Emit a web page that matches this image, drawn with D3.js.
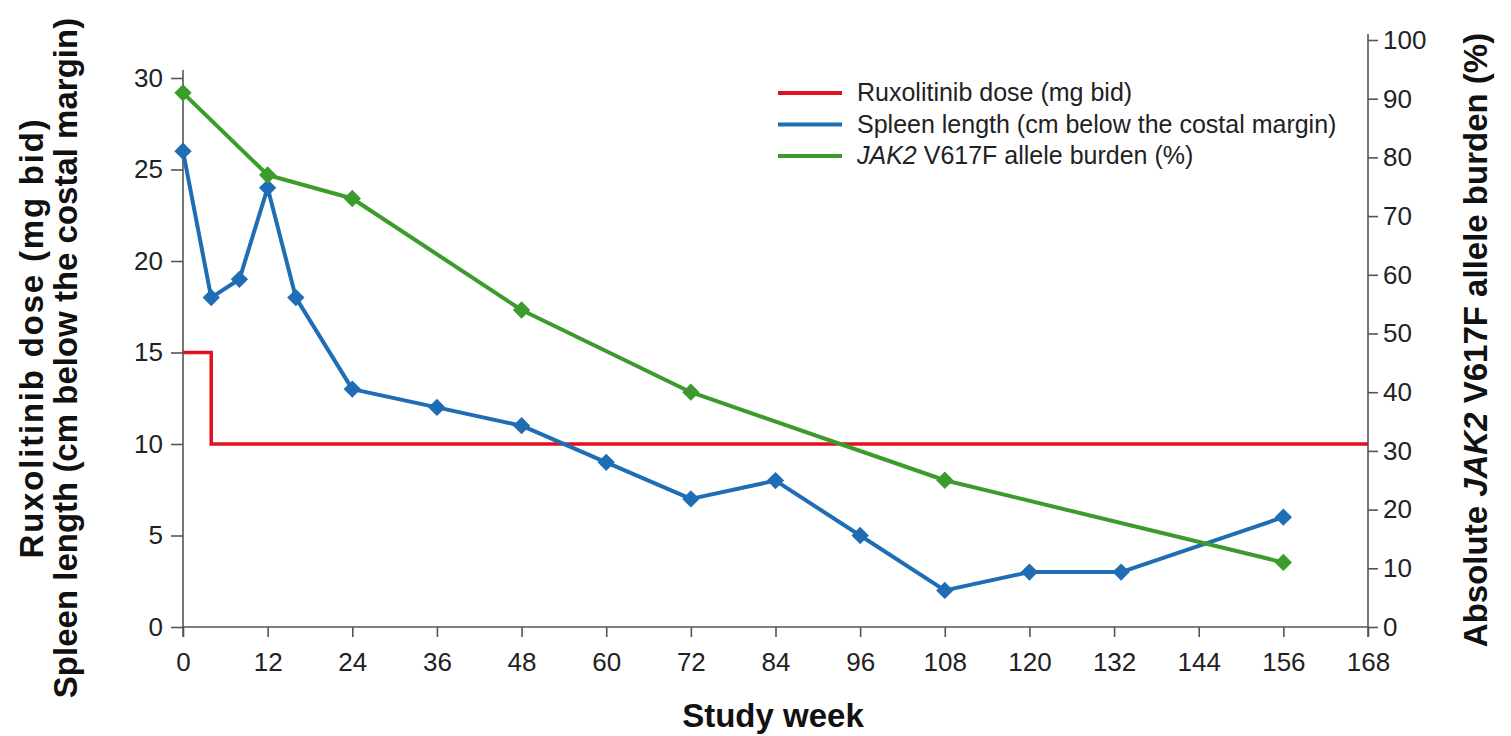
<!DOCTYPE html>
<html>
<head>
<meta charset="utf-8">
<script src="https://cdn.jsdelivr.net/npm/d3@7"></script>
<style>
  body { margin: 0; background: #fff; }
  svg { display: block; font-family: "Liberation Sans", Arial, sans-serif; }
  .axis path, .axis line { stroke: #555; stroke-width: 1.6; }
  .axis text { fill: #222; font-size: 26px; }
</style>
</head>
<body>
<svg id="chart" width="1511" height="736"></svg>
<script>
// ---- data ----
var doseWeeks = [0, 4, 4, 168];
var doseValues = [15, 15, 10, 10];

var spleenWeeks = [0, 4, 8, 12, 16, 24, 36, 48, 60, 72, 84, 96, 108, 120, 133, 156];
var spleenValues = [26, 18, 19, 24, 18, 13, 12, 11, 9, 7, 8, 5, 2, 3, 3, 6];

var jakWeeks = [0, 12, 24, 48, 72, 108, 156];
var jakValues = [91, 77, 73, 54, 40, 25, 11];

var xTicks = [0, 12, 24, 36, 48, 60, 72, 84, 96, 108, 120, 132, 144, 156, 168];
var leftTicks = [0, 5, 10, 15, 20, 25, 30];
var rightTicks = [0, 10, 20, 30, 40, 50, 60, 70, 80, 90, 100];

var colours = { dose: "#e3101d", spleen: "#1f6db4", jak: "#3c9c2b" };

//Setup chart
var svg = d3.select("#chart"),
    margin = {top: 40, right: 143, bottom: 109, left: 183},
    width = +svg.attr("width") - margin.left - margin.right,
    height = +svg.attr("height") - margin.top - margin.bottom,
    g = svg.append("g").attr("transform", "translate(" + margin.left + "," + margin.top + ")");

var x = d3.scaleLinear().domain([0, 168]).range([0, width]);
var yRight = d3.scaleLinear().domain([0, 100]).range([height, 0]);
// left axis: 30 sits a bit below the top of the right axis
var yLeft = d3.scaleLinear().domain([0, 30]).range([height, height - 30 * 18.3]);

// axes
var xAxis = g.append("g").attr("class", "axis")
    .attr("transform", "translate(0," + height + ")")
    .call(d3.axisBottom(x).tickValues(xTicks).tickSize(10).tickSizeOuter(0).tickPadding(16));
xAxis.select(".domain").attr("d", "M0,0H" + width);

var leftAxis = g.append("g").attr("class", "axis")
    .call(d3.axisLeft(yLeft).tickValues(leftTicks).tickSize(12).tickSizeOuter(0).tickPadding(8));
leftAxis.select(".domain").attr("d", "M0," + (height + 10) + "V" + (yLeft(30) - 8));

var rightAxis = g.append("g").attr("class", "axis")
    .attr("transform", "translate(" + width + ",0)")
    .call(d3.axisRight(yRight).tickValues(rightTicks).tickSize(10).tickSizeOuter(0).tickPadding(5));
rightAxis.select(".domain").attr("d", "M0," + (height + 10) + "V-6");

// axis titles
svg.append("text")
    .attr("x", 773).attr("y", 727)
    .attr("text-anchor", "middle")
    .attr("font-size", 33).attr("font-weight", "bold").attr("fill", "#111")
    .text("Study week");

svg.append("text")
    .attr("transform", "translate(43,338) rotate(-90)")
    .attr("text-anchor", "middle")
    .attr("font-size", 33).attr("font-weight", "bold").attr("fill", "#111")
    .attr("letter-spacing", 1.8)
    .text("Ruxolitinib dose (mg bid)");

svg.append("text")
    .attr("transform", "translate(77,358) rotate(-90)")
    .attr("text-anchor", "middle")
    .attr("font-size", 33).attr("font-weight", "bold").attr("fill", "#111")
    .text("Spleen length (cm below the costal margin)");

var rt = svg.append("text")
    .attr("transform", "translate(1487,340) rotate(-90)")
    .attr("text-anchor", "middle")
    .attr("font-size", 33).attr("font-weight", "bold").attr("fill", "#111");
rt.append("tspan").text("Absolute ");
rt.append("tspan").attr("font-style", "italic").text("JAK2");
rt.append("tspan").text(" V617F allele burden (%)");

// lines
var doseLine = d3.line()
    .x(function(d, i){ return x(doseWeeks[i]); })
    .y(function(d){ return yLeft(d); });

var spleenLine = d3.line()
    .x(function(d, i){ return x(spleenWeeks[i]); })
    .y(function(d){ return yLeft(d); });

var jakLine = d3.line()
    .x(function(d, i){ return x(jakWeeks[i]); })
    .y(function(d){ return yRight(d); });

g.append("path")
    .datum(doseValues)
    .attr("fill", "none")
    .attr("stroke", colours.dose)
    .attr("stroke-width", 3.5)
    .attr("d", doseLine);

g.append("path")
    .datum(spleenValues)
    .attr("fill", "none")
    .attr("stroke", colours.spleen)
    .attr("stroke-linejoin", "round")
    .attr("stroke-width", 4)
    .attr("d", spleenLine);

var marker = d3.symbol().type(d3.symbolSquare).size(150);

g.selectAll(".spleenPt")
    .data(spleenValues)
    .enter().append("path")
    .attr("class", "spleenPt")
    .attr("fill", colours.spleen)
    .attr("transform", function(d, i){ return "translate(" + x(spleenWeeks[i]) + "," + yLeft(d) + ") rotate(45)"; })
    .attr("d", marker);

g.append("path")
    .datum(jakValues)
    .attr("fill", "none")
    .attr("stroke", colours.jak)
    .attr("stroke-linejoin", "round")
    .attr("stroke-width", 4)
    .attr("d", jakLine);

g.selectAll(".jakPt")
    .data(jakValues)
    .enter().append("path")
    .attr("class", "jakPt")
    .attr("fill", colours.jak)
    .attr("transform", function(d, i){ return "translate(" + x(jakWeeks[i]) + "," + yRight(d) + ") rotate(45)"; })
    .attr("d", marker);

// legend
var legendItems = [
    {key: "dose", parts: [["Ruxolitinib dose (mg bid)", false]]},
    {key: "spleen", parts: [["Spleen length (cm below the costal margin)", false]]},
    {key: "jak", parts: [["JAK2", true], [" V617F allele burden (%)", false]]}
];

var legend = svg.append("g").attr("transform", "translate(778,93)");
legendItems.forEach(function(item, i){
    var row = legend.append("g").attr("transform", "translate(0," + (i * 31.5) + ")");
    row.append("line")
        .attr("x1", 0).attr("x2", 64).attr("y1", 0).attr("y2", 0)
        .attr("stroke", colours[item.key]).attr("stroke-width", 4);
    var t = row.append("text")
        .attr("x", 79).attr("y", 8)
        .attr("font-size", 25).attr("fill", "#222");
    item.parts.forEach(function(p){
        t.append("tspan").attr("font-style", p[1] ? "italic" : "normal").text(p[0]);
    });
});
</script>
</body>
</html>
